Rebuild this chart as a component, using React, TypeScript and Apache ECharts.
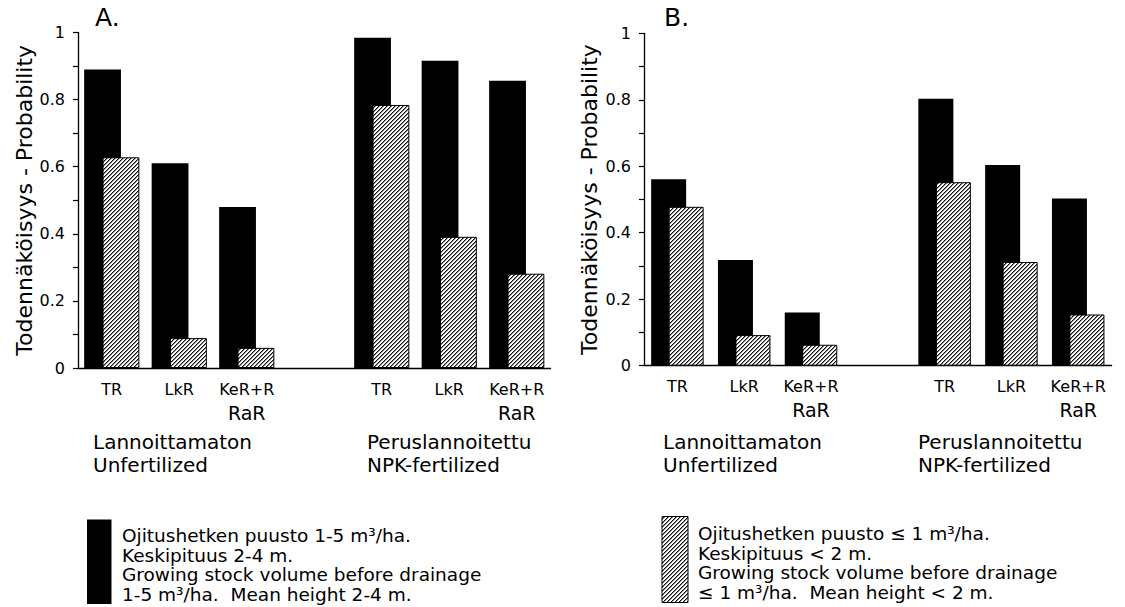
import React, { useEffect, useRef } from "react";
import * as echarts from "echarts";

const categories = ["TR", "LkR", "KeR+R", "", "TR", "LkR", "KeR+R"];
const yTickLabels = ["0", "0.2", "0.4", "0.6", "0.8", "1"];

const aBlack = [0.89, 0.61, 0.48, null, 0.984, 0.916, 0.856];
const aHatched = [0.628, 0.089, 0.06, null, 0.784, 0.391, 0.281];
const bBlack = [0.561, 0.318, 0.16, null, 0.803, 0.604, 0.503];
const bHatched = [0.478, 0.092, 0.063, null, 0.552, 0.312, 0.154];

const yAxisName = "Todennäköisyys - Probability";
const panelTitles = ["A.", "B."];
const groupLabels = ["Lannoittamaton\nUnfertilized", "Peruslannoitettu\nNPK-fertilized"];
const legendBlack = [
  "Ojitushetken puusto 1-5 m³/ha.",
  "Keskipituus 2-4 m.",
  "Growing stock volume before drainage",
  "1-5 m³/ha.  Mean height 2-4 m.",
];
const legendHatched = [
  "Ojitushetken puusto ≤ 1 m³/ha.",
  "Keskipituus < 2 m.",
  "Growing stock volume before drainage",
  "≤ 1 m³/ha.  Mean height < 2 m.",
];

const FONT = "DejaVu Sans";

function makeHatch() {
  const s = 4;
  const c = document.createElement("canvas");
  c.width = s;
  c.height = s;
  const ctx = c.getContext("2d")!;
  ctx.fillStyle = "#ffffff";
  ctx.fillRect(0, 0, s, s);
  for (let x = 0; x < s; x++) {
    for (let y = 0; y < s; y++) {
      const m = (x + y) % s;
      if (m === 0) {
        ctx.fillStyle = "#111111";
        ctx.fillRect(x, y, 1, 1);
      } else if (m === 1) {
        ctx.fillStyle = "#888888";
        ctx.fillRect(x, y, 1, 1);
      }
    }
  }
  return { image: c, repeat: "repeat" as const };
}

export default function App() {
  const ref = useRef<HTMLDivElement>(null);
  useEffect(() => {
    if (!ref.current) return;
    const chart = echarts.init(ref.current, null, { renderer: "svg" });
    const hatch = makeHatch();

    const grids = [
      { left: 78, top: 32.5, width: 472.5, height: 335.5 },
      { left: 644, top: 33.3, width: 467.6, height: 332.4 },
    ];

    const xAxisCommon = (gi: number) => ({
      type: "category" as const,
      gridIndex: gi,
      data: categories,
      axisLine: { show: true, lineStyle: { color: "#000", width: 1.3 } },
      axisTick: { show: false },
      axisLabel: {
        color: "#000",
        fontFamily: FONT,
        fontSize: 16,
        margin: 11,
        interval: 0,
        lineHeight: 20,
        formatter: (v: string) => (v === "KeR+R" ? "KeR+R\n{r|RaR}" : v),
        rich: { r: { fontSize: 19, lineHeight: 27, fontFamily: FONT, color: "#000" } },
      },
    });

    const yAxisCommon = (gi: number, gap: number) => ({
      type: "value" as const,
      gridIndex: gi,
      min: 0,
      max: 1,
      interval: 0.1,
      name: yAxisName,
      nameLocation: "middle" as const,
      nameGap: gap,
      nameTextStyle: { color: "#000", fontFamily: FONT, fontSize: 22 },
      axisLine: { show: true, lineStyle: { color: "#000", width: 1.3 } },
      axisTick: { show: true, length: 5, lineStyle: { color: "#000", width: 1.2 } },
      splitLine: { show: false },
      axisLabel: {
        color: "#000",
        fontFamily: FONT,
        fontSize: 16,
        margin: 13,
        formatter: (v: number) => {
          const i = Math.round(v * 10);
          return i % 2 === 0 ? yTickLabels[i / 2] : "";
        },
      },
    });

    const barSeries = (gi: number, data: (number | null)[], hatched: boolean, w: number) => ({
      type: "bar" as const,
      xAxisIndex: gi,
      yAxisIndex: gi,
      data,
      barWidth: w,
      barGap: "-50%",
      itemStyle: hatched
        ? { color: hatch, borderColor: "#000", borderWidth: 1 }
        : { color: "#000" },
    });

    const textEl = (x: number, y: number, text: string, size: number, lh?: number, va = "top") => ({
      type: "text" as const,
      x,
      y,
      style: {
        text,
        fontFamily: FONT,
        fontSize: size,
        fill: "#000",
        lineHeight: lh,
        verticalAlign: va,
        align: "left",
      },
    });

    const option = {
      animation: false,
      textStyle: { fontFamily: FONT },
      grid: grids,
      xAxis: [xAxisCommon(0), xAxisCommon(1)],
      yAxis: [yAxisCommon(0, 40), yAxisCommon(1, 44)],
      series: [
        barSeries(0, aBlack, false, 36.8),
        barSeries(0, aHatched, true, 36.8),
        barSeries(1, bBlack, false, 35),
        barSeries(1, bHatched, true, 35),
      ],
      graphic: [
        textEl(95, 17, panelTitles[0], 25, undefined, "middle"),
        textEl(664, 17, panelTitles[1], 25, undefined, "middle"),
        textEl(93, 431, groupLabels[0], 20, 22.5),
        textEl(367, 431, groupLabels[1], 20, 22.5),
        textEl(663, 431, groupLabels[0], 20, 22.5),
        textEl(918, 431, groupLabels[1], 20, 22.5),
        {
          type: "rect",
          shape: { x: 87, y: 519.5, width: 24.5, height: 84.5 },
          style: { fill: "#000" },
        },
        textEl(122, 526, legendBlack.join("\n"), 18.5, 19.5),
        {
          type: "rect",
          shape: { x: 662, y: 516.5, width: 26, height: 86 },
          style: { fill: hatch, stroke: "#000", lineWidth: 1 },
        },
        textEl(698, 524, legendHatched.join("\n"), 18.5, 19.5),
      ],
    };
    chart.setOption(option as any);
    return () => chart.dispose();
  }, []);
  return (
    <div
      ref={ref}
      style={{ position: "fixed", left: 0, top: 0, width: 1125, height: 607, background: "#fff" }}
    />
  );
}
